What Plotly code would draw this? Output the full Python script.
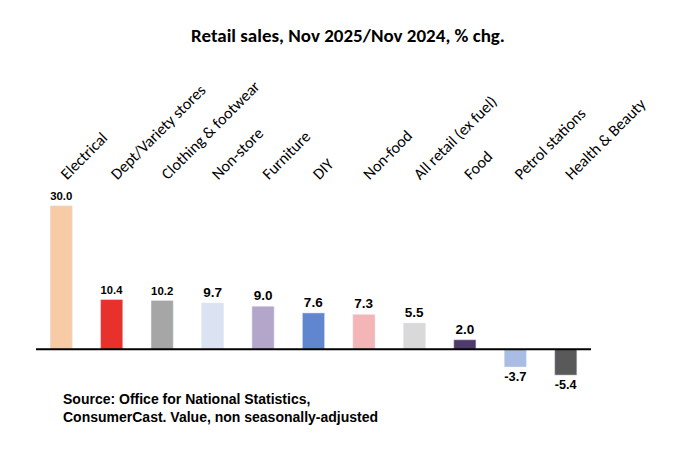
import plotly.graph_objects as go

categories = ["Electrical", "Dept/Variety stores", "Clothing & footwear", "Non-store", "Furniture",
              "DIY", "Non-food", "All retail (ex fuel)", "Food", "Petrol stations", "Health & Beauty"]
values = [30.0, 10.4, 10.2, 9.7, 9.0, 7.6, 7.3, 5.5, 2.0, -3.7, -5.4]
colors = ["#f7cba5", "#e8312a", "#a6a6a6", "#dbe3f3", "#b4a6cb", "#5f86cf",
          "#f4b5b7", "#d9d9d9", "#4f3b6b", "#a9bde4", "#595959"]

fig = go.Figure(go.Bar(
    x=categories, y=values, marker_color=colors, width=0.44,
    text=[f"{v:.1f}" for v in values], textposition="outside", cliponaxis=False,
    textfont=dict(family="Liberation Sans", size=13.5, color="black"),
    texttemplate="<b>%{text}</b>",
))

fig.update_layout(
    width=680, height=465, margin=dict(l=28, r=97, t=193, b=95),
    plot_bgcolor="white", paper_bgcolor="white", showlegend=False,
    font=dict(family="Liberation Sans", color="black"),
    title=dict(text="<b>Retail sales, Nov 2025/Nov 2024, % chg.</b>", x=0.5, xanchor="center",
               y=0.955, font=dict(family="Carlito, Liberation Sans", size=19, color="black")),
    xaxis=dict(side="top", tickangle=-45, showline=False, ticks="", ticklabelstandoff=14,
               tickfont=dict(size=16, family="Carlito, Liberation Sans", color="black"),
               range=[-0.5, 10.5]),
    yaxis=dict(range=[-6, 31], visible=False),
    annotations=[dict(
        text="<b>Source: Office for National Statistics,<br>ConsumerCast. Value, non seasonally-adjusted</b>",
        xref="paper", yref="paper", x=0.045, y=-0.06, xanchor="left", yanchor="top",
        align="left", showarrow=False, font=dict(size=14, family="Liberation Sans"))],
)
fig.add_hline(y=0, line_color="black", line_width=2)

fig.write_html("out.html")
